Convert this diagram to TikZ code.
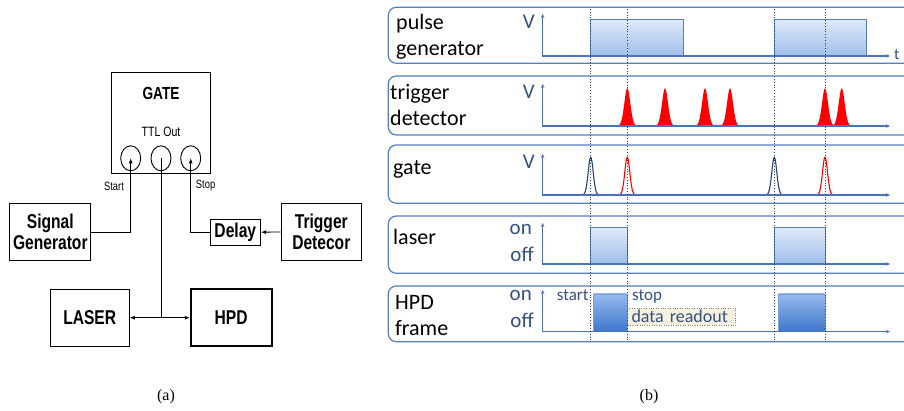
\documentclass[tikz,border=0pt]{standalone}
\usepackage{fontspec}
\setmainfont{Liberation Serif}
\newfontfamily\armfont[FakeStretch=0.78]{Liberation Sans}
\newfontfamily\ofcfont{Carlito}
\usetikzlibrary{
    arrows.meta,
    shapes.geometric,
    positioning
}
\definecolor{panelblue}{RGB}{84,126,190}
\definecolor{axisblue}{RGB}{74,114,180}
\definecolor{unitblue}{RGB}{52,80,128}
\definecolor{dotblue}{RGB}{40,66,120}
\definecolor{gateblue}{RGB}{38,66,112}
\definecolor{readbg}{RGB}{246,240,222}

\tikzset{
    block/.style={draw, line width=0.9pt, minimum width=80.7pt, minimum height=57.4pt,
        align=center, font=\armfont\bfseries\fontsize{20}{21}\selectfont},
    port/.style={draw, ellipse, line width=0.9pt, minimum width=20pt, minimum height=25pt, inner sep=0pt},
    wire/.style={line width=0.8pt, -{Latex[length=5pt, width=4pt]}},
    panel/.style={draw=panelblue, line width=1.2pt, rounded corners=8pt},
    axis/.style={draw=axisblue, line width=1.1pt, {Stealth[length=4pt, width=3.5pt]}-{Stealth[length=4pt, width=3.5pt]}},
    plabel/.style={anchor=base west, align=left, inner sep=0pt, font=\ofcfont\fontsize{22}{26}\selectfont},
    unit/.style={anchor=base east, inner sep=0pt, text=unitblue, font=\ofcfont\fontsize{21}{24}\selectfont},
    tick/.style={draw=dotblue, dotted, line width=0.8pt},
    softpulse/.style={draw=panelblue, line width=0.8pt, top color={rgb,255:red,224;green,233;blue,248}, bottom color={rgb,255:red,160;green,191;blue,236}},
    framepulse/.style={draw={rgb,255:red,120;green,160;blue,220}, line width=0.6pt, top color={rgb,255:red,150;green,186;blue,236}, bottom color={rgb,255:red,62;green,118;blue,206}}
}

\begin{document}
\begin{tikzpicture}[x=1pt, y=-1pt]
\useasboundingbox (0,0) rectangle (904,411);
\clip (0,0) rectangle (904,411);

% (a) gate set-up
\node[draw, line width=0.9pt, minimum width=99pt, minimum height=100.6pt] (gate) at (160.5,123) {};
\node[font=\armfont\bfseries\fontsize{17.5}{18}\selectfont] (gatename) at (161,93) {GATE};
\node[font=\armfont\fontsize{13.5}{14}\selectfont] (ttlout) at (161,131.7) {TTL Out};
\node[port] (start) at (130.7,158.3) {};
\node[port] (ttl) at (161,158.3) {};
\node[port] (stop) at (190.7,158.3) {};
\node[font=\armfont\fontsize{12}{13}\selectfont] (startlbl) at (114,186) {Start};
\node[font=\armfont\fontsize{12}{13}\selectfont] (stoplbl) at (205.6,186) {Stop};

\node[block] (siggen) at (50.3,232) {Signal\\Generator};
\node[block, minimum width=50.7pt, minimum height=25.7pt, inner sep=1pt] (delay) at (235.3,232.2) {Delay};
\node[block] (trigdet) at (321.3,232) {Trigger\\Detecor};
\node[block, minimum width=79.3pt, minimum height=56.7pt] (laser) at (89.7,317.7) {LASER};
\node[block, line width=1.8pt, minimum width=81pt, minimum height=56.7pt] (hpd) at (231.2,317.7) {HPD};
\coordinate (split) at (ttl.center |- hpd.west);

\draw[wire] (siggen.east) -| (start.center);
\draw[wire] (trigdet.west) -- (delay.east);
\draw[wire] (delay.west) -| (stop.center);
\draw[line width=0.8pt] (ttl.center) -- (split);
\draw
(split) edge[wire] (laser.east)
(split) edge[wire] (hpd.west);

\node[font=\fontsize{16}{18}\selectfont] (capa) at (166,397) {(a)};

% (b) timing panels
\draw[panel] (388.3,7.3) rectangle (930,63.3);
\draw[panel] (388.3,76) rectangle (930,135);
\draw[panel] (388.3,145) rectangle (930,203.3);
\draw[panel] (388.3,216) rectangle (930,273.3);
\draw[panel] (388.3,286) rectangle (930,341.7);

\node[plabel] (pulselbl) at (396,56) {pulse\\generator};
\node[plabel] (triglbl) at (390,126) {trigger\\detector};
\node[plabel] (gatelbl) at (393,175) {gate};
\node[plabel] (laserlbl) at (393,245) {laser};
\node[plabel] (hpdlbl) at (395,335) {HPD\\frame};

% signals
\draw[softpulse] (590.7,19.3) rectangle (683.3,56);
\draw[softpulse] (774.3,19.3) rectangle (866.7,56);
\foreach \c in {627.3,665,705,730,825,841.7}
    \fill[red] plot[domain=-10:10, samples=41, smooth] ({\c+\x}, {126-37.7*exp(-(\x*\x)/18)});
\foreach \c/\col in {590.7/gateblue,627.3/red,774.3/gateblue,825/red}
    \draw[\col, line width=1.1pt] plot[domain=-9:9, samples=37, smooth] ({\c+\x}, {195-37.7*exp(-(\x*\x)/12.5)});
\draw[softpulse] (590.7,227.3) rectangle (627.3,264);
\draw[softpulse] (774.3,227.3) rectangle (825,264);
\draw[framepulse] (593.3,294) rectangle (627.3,331.7);
\draw[framepulse] (778.3,294) rectangle (825,331.7);
\node[draw=gray, dotted, fill=readbg, anchor=north west, text width=100pt, align=left,
    inner xsep=4pt, inner ysep=2pt, text=unitblue, font=\ofcfont\fontsize{18}{20}\selectfont] (readout) at (627.3,308.3) {data readout};

% axes
\draw[axis] (542.7,14) |- (890,56);
\draw[axis] (542.7,84) |- (890,126);
\draw[axis] (542.7,154) |- (890,195);
\draw[axis] (542.7,223) |- (890,264);
\draw[axis] (542.7,290) |- (890,331.7);

% time marks
\foreach \t in {590.7,627.3,774.3,825}
    \draw[tick] (\t,9) -- (\t,341);

\node[unit] (v1) at (535,28.3) {V};
\node[unit] (v2) at (535,99) {V};
\node[unit] (v3) at (535,168.5) {V};
\node[unit] (on4) at (532,235) {on};
\node[unit] (off4) at (534,261.7) {off};
\node[unit] (on5) at (532,300.7) {on};
\node[unit] (off5) at (534,327.3) {off};
\node[anchor=base west, inner sep=0pt, text=unitblue, font=\ofcfont\fontsize{16}{18}\selectfont] (tlbl) at (894,60) {t};
\node[anchor=base, inner sep=0pt, text=unitblue, font=\ofcfont\fontsize{17}{18}\selectfont] (startmk) at (572.7,301) {start};
\node[anchor=base west, inner sep=0pt, text=unitblue, font=\ofcfont\fontsize{17}{18}\selectfont] (stopmk) at (632,301) {stop};

\node[font=\fontsize{16}{18}\selectfont] (capb) at (649,397) {(b)};
\end{tikzpicture}
\end{document}
